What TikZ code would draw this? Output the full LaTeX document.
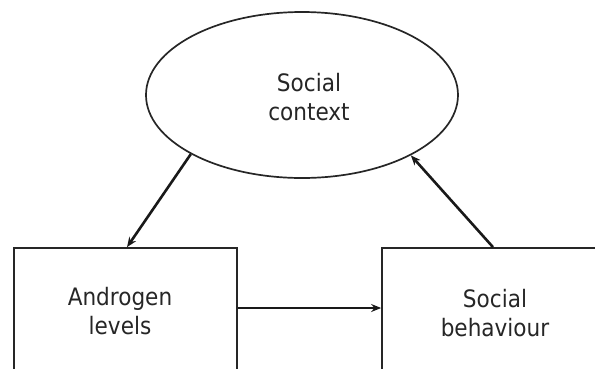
\documentclass[tikz,border=0pt]{standalone}
\usepackage{fontspec}
\setmainfont{DejaVu Sans Condensed}
\usetikzlibrary{shapes.geometric,arrows.meta}
\tikzset{
  lbl/.style={font=\fontsize{24}{29}\selectfont, align=center, text=black!85},
  ellbox/.style={ellipse, draw=black!85, line width=1.7pt, minimum width=312pt, minimum height=166pt, inner sep=0pt},
  rectbox/.style={rectangle, draw=black!85, line width=1.7pt, minimum height=126pt, inner sep=0pt},
  arr/.style={line width=2.6pt, draw=black!90, -{Stealth[length=10pt,width=8pt]}}
}
\begin{document}
\begin{tikzpicture}[x=1pt,y=1pt]
\path[use as bounding box] (0,0) rectangle (595,-368);
\clip (0,0) rectangle (595,-368);
\node[ellbox] (ctx) at (302,-95) {};
\node[lbl] (ctxt) at (309,-97) {Social\\context};
\node[rectbox, minimum width=223pt] (andro) at (125.5,-311) {};
\node[lbl] (androt) at (120,-311) {Androgen\\levels};
\node[rectbox, minimum width=228pt] (beh) at (496,-311) {};
\node[lbl] (beht) at (495,-313) {Social\\behaviour};
\draw[arr] (ctx.208.8) -- ([xshift=1.5pt]andro.north);
\draw[arr] ([xshift=-3pt]beh.north) -- (ctx.331.3);
\draw[arr] ([yshift=3pt]andro.east) -- ([yshift=3pt]beh.west);
\end{tikzpicture}
\end{document}
